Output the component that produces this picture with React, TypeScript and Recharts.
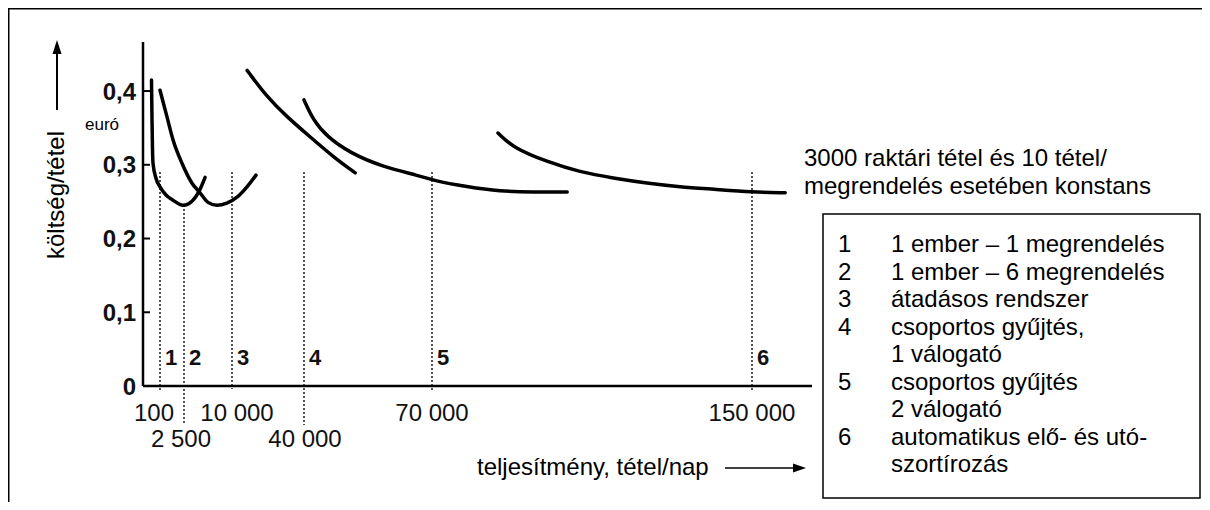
import React from 'react';
import { LineChart, Line, XAxis, YAxis, ReferenceLine, ReferenceDot } from 'recharts';

// költség/tétel (euró) a teljesítmény (tétel/nap) függvényében, leolvasva
const curve1X = [50, 53, 56, 59, 76, 100, 700, 1400, 2400, 3900, 4850, 5800];
const curve1Y = [0.415, 0.361, 0.32, 0.302, 0.282, 0.27, 0.259, 0.252, 0.245, 0.252, 0.264, 0.283];
const curve2X = [100, 800, 1400, 2300, 3750, 5000, 6250, 7650, 9200, 12100, 16250, 20000];
const curve2Y = [0.401, 0.365, 0.334, 0.302, 0.275, 0.262, 0.249, 0.245, 0.248, 0.256, 0.27, 0.286];
const curve3X = [16300, 24600, 32900, 41400, 46800, 52000];
const curve3Y = [0.428, 0.392, 0.365, 0.338, 0.311, 0.289];
const curve4X = [40000, 42100, 45400, 50800, 58500, 67200, 70000, 78800, 87000, 95300, 103800];
const curve4Y = [0.388, 0.361, 0.338, 0.316, 0.297, 0.285, 0.279, 0.27, 0.264, 0.263, 0.263];
const curve5X = [86500, 90300, 98800, 107000, 115300, 123800, 132000, 140300, 150000, 158300];
const curve5Y = [0.343, 0.323, 0.304, 0.29, 0.282, 0.275, 0.27, 0.267, 0.263, 0.262];

const xTickValues = [100, 2500, 10000, 40000, 70000, 150000];
const xTickLabels = ['100', '2 500', '10 000', '40 000', '70 000', '150 000'];
const yTickValues = [0, 0.1, 0.2, 0.3, 0.4];

// szakaszhatárok (szaggatott vonalak) és a számozásuk
const dividerX = [100, 2500, 10000, 40000, 70000, 150000];
const dividerTop = [0.29, 0.245, 0.29, 0.29, 0.29, 0.29];
const dividerBottom = [-0.008, -0.053, -0.004, -0.053, -0.008, -0.008];
const sectionLabels = ['1', '2', '3', '4', '5', '6'];

const legendNums = ['1', '2', '3', '4', '', '5', '', '6', ''];
const legendTexts = [
  '1 ember – 1 megrendelés',
  '1 ember – 6 megrendelés',
  'átadásos rendszer',
  'csoportos gyűjtés,',
  '1 válogató',
  'csoportos gyűjtés',
  '2 válogató',
  'automatikus elő- és utó-',
  'szortírozás',
];
const noteLines = ['3000 raktári tétel és 10 tétel/', 'megrendelés esetében konstans'];

// the printed x axis is not uniform: break points -> axis units (px)
const scaleBreaks = [0, 100, 2500, 10000, 40000, 70000, 150000, 170000];
const scaleUnits = [0, 17, 41, 89, 161, 289, 609, 689];
const toAxis = (v: number) => {
  for (let i = 1; i < scaleBreaks.length; i++) {
    if (v <= scaleBreaks[i]) {
      const t = (v - scaleBreaks[i - 1]) / (scaleBreaks[i] - scaleBreaks[i - 1]);
      return scaleUnits[i - 1] + t * (scaleUnits[i] - scaleUnits[i - 1]);
    }
  }
  return scaleUnits[scaleUnits.length - 1];
};

const toSeries = (xs: number[], ys: number[]) => xs.map((x, i) => ({ u: toAxis(x), y: ys[i] }));
const curves = [
  toSeries(curve1X, curve1Y),
  toSeries(curve2X, curve2Y),
  toSeries(curve3X, curve3Y),
  toSeries(curve4X, curve4Y),
  toSeries(curve5X, curve5Y),
];
const curveTypes: ('monotone' | 'basis')[] = ['monotone', 'monotone', 'basis', 'basis', 'basis'];

const FONT = '"Liberation Sans", Arial, sans-serif';
const xTickRow = [0, 1, 0, 1, 0, 0];
const xTickNudge = [-6, -3, 5, 1, 0, 0];

const YTick = (props: any) => {
  const { x, y, payload } = props;
  const label = payload.value === 0 ? '0' : payload.value.toFixed(1).replace('.', ',');
  return (
    <g>
      <line x1={x + 7} x2={x + 14} y1={y} y2={y} stroke="#000" strokeWidth={2} />
      <text x={x} y={y + 8.5} textAnchor="end" fontSize={24} fontWeight="bold" fontFamily={FONT} fill="#111">
        {label}
      </text>
    </g>
  );
};

const XTick = (props: any) => {
  const { x, y, index } = props;
  const row = xTickRow[index] ?? 0;
  return (
    <text
      x={x + (xTickNudge[index] ?? 0)}
      y={y + (row === 0 ? 35 : 61)}
      textAnchor="middle"
      fontSize={24}
      fontFamily={FONT}
      fill="#111"
    >
      {xTickLabels[index]}
    </text>
  );
};

export default function App() {
  return (
    <div style={{ position: 'relative', width: 1210, height: 510, margin: -8, background: '#fff' }}>
      <LineChart width={1210} height={510} margin={{ top: 42, right: 398, bottom: 64, left: 83 }}>
        <XAxis
          type="number"
          dataKey="u"
          domain={[0, 669]}
          allowDataOverflow
          ticks={xTickValues.map(toAxis)}
          interval={0}
          tick={<XTick />}
          tickLine={false}
          tickSize={0}
          tickMargin={0}
          height={60}
          axisLine={{ stroke: '#000', strokeWidth: 2.5 }}
        />
        <YAxis
          type="number"
          domain={[0, 0.4665]}
          allowDataOverflow
          ticks={yTickValues}
          interval={0}
          tick={<YTick />}
          tickLine={false}
          tickSize={0}
          tickMargin={7}
          width={60}
          axisLine={{ stroke: '#000', strokeWidth: 2.5 }}
        />
        {dividerX.map((v, i) => (
          <ReferenceLine
            key={'d' + i}
            segment={[
              { x: toAxis(v), y: dividerTop[i] },
              { x: toAxis(v), y: dividerBottom[i] },
            ]}
            stroke="#000"
            strokeWidth={1.8}
            strokeDasharray="1.5 2.5"
            ifOverflow="visible"
          />
        ))}
        {dividerX.map((v, i) => (
          <ReferenceDot
            key={'n' + i}
            x={toAxis(v)}
            y={0.039}
            r={0}
            fill="none"
            stroke="none"
            label={{
              value: sectionLabels[i],
              position: 'right',
              offset: 5,
              fontSize: 22,
              fontWeight: 'bold',
              fontFamily: FONT,
              fill: '#111',
            }}
          />
        ))}
        {curves.map((d, i) => (
          <Line
            key={'c' + i}
            data={d}
            dataKey="y"
            type={curveTypes[i]}
            stroke="#000"
            strokeWidth={3.5}
            strokeLinecap="round"
            dot={false}
            activeDot={false}
            isAnimationActive={false}
          />
        ))}
      </LineChart>

      <svg
        width={1210}
        height={510}
        style={{ position: 'absolute', left: 0, top: 0, pointerEvents: 'none' }}
        fontFamily={FONT}
      >
        {/* keret */}
        <line x1={8} y1={8} x2={1210} y2={8} stroke="#000" strokeWidth={3} />
        <line x1={8} y1={8} x2={8} y2={510} stroke="#000" strokeWidth={3} />

        {/* y tengely felirat + nyíl */}
        <line x1={57} y1={110} x2={57} y2={52} stroke="#000" strokeWidth={2} />
        <polygon points="57,40 52.5,54 61.5,54" fill="#000" />
        <text transform="translate(64,195) rotate(-90)" textAnchor="middle" fontSize={24} fill="#000">
          költség/tétel
        </text>
        <text x={85} y={130} fontSize={17} fill="#000">
          euró
        </text>

        {/* x tengely felirat + nyíl */}
        <text x={477} y={475} fontSize={24} fill="#000">
          teljesítmény, tétel/nap
        </text>
        <line x1={725} y1={468} x2={796} y2={468} stroke="#000" strokeWidth={1.5} />
        <polygon points="806,468 793,463.5 793,472.5" fill="#000" />

        {/* megjegyzés */}
        {noteLines.map((t, i) => (
          <text key={'t' + i} x={804} y={166 + i * 27.5} fontSize={24} fill="#000">
            {t}
          </text>
        ))}

        {/* jelmagyarázat */}
        <rect x={823} y={214} width={377} height={284} fill="#fff" stroke="#000" strokeWidth={1.5} />
        {legendTexts.map((t, i) => (
          <g key={'l' + i}>
            <text x={838} y={252 + i * 27.5} fontSize={24} fill="#000">
              {legendNums[i]}
            </text>
            <text x={891} y={252 + i * 27.5} fontSize={24} fill="#000">
              {t}
            </text>
          </g>
        ))}
      </svg>
    </div>
  );
}
